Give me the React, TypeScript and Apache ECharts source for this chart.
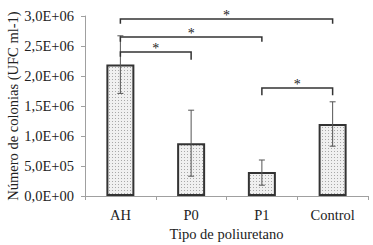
import React, { useEffect, useRef } from "react";
import * as echarts from "echarts";

const categories = ["AH", "P0", "P1", "Control"];
const means = [2.19e6, 0.88e6, 0.4e6, 1.2e6];
const errLow = [1.71e6, 0.33e6, 0.18e6, 0.83e6];
const errHigh = [2.67e6, 1.43e6, 0.6e6, 1.57e6];
// [fromIndex, toIndex, bracketLevel, leftDropTo, rightDropTo]
const brackets = [
  [0, 3, 2.95e6, 2.87e6, 2.87e6],
  [0, 2, 2.65e6, 2.57e6, 2.57e6],
  [0, 1, 2.4e6, 2.32e6, 2.27e6],
  [2, 3, 1.8e6, 1.68e6, 1.68e6],
];
const yMax = 3e6;
const yInterval = 5e5;

const FONT = "'Times New Roman', 'Liberation Serif', 'DejaVu Serif', serif";

function fmt(v: number): string {
  if (v === 0) return "0,0E+00";
  const e = Math.floor(Math.log10(v) + 1e-9);
  const m = v / Math.pow(10, e);
  return m.toFixed(1).replace(".", ",") + "E+" + String(e).padStart(2, "0");
}

function makePattern() {
  const c = document.createElement("canvas");
  c.width = 3;
  c.height = 3;
  const ctx = c.getContext("2d")!;
  ctx.fillStyle = "#f0f0f0";
  ctx.fillRect(0, 0, 3, 3);
  ctx.fillStyle = "#a8a8a8";
  ctx.fillRect(1, 1, 1, 1);
  return c;
}

export default function App() {
  const ref = useRef<HTMLDivElement>(null);
  useEffect(() => {
    const chart = echarts.init(ref.current!, null, { renderer: "svg" });
    const pattern = makePattern();
    chart.setOption({
      animation: false,
      textStyle: { fontFamily: FONT },
      grid: { left: 85, right: 5, top: 16, bottom: 49, outerBoundsMode: "none" },
      xAxis: {
        type: "category",
        data: categories,
        name: "Tipo de poliuretano",
        nameLocation: "middle",
        nameGap: 30,
        nameMoveOverlap: false,
        nameTextStyle: { fontFamily: FONT, fontSize: 14.5, color: "#222" },
        axisLine: { lineStyle: { color: "#a0a0a0", width: 1 } },
        axisTick: { show: true, length: 4, lineStyle: { color: "#a0a0a0" } },
        axisLabel: { fontFamily: FONT, fontSize: 14.5, color: "#222", margin: 11 },
      },
      yAxis: {
        type: "value",
        min: 0,
        max: yMax,
        interval: yInterval,
        name: "Número de colonias (UFC ml-1)",
        nameLocation: "middle",
        nameGap: 65,
        nameMoveOverlap: false,
        nameTextStyle: { fontFamily: FONT, fontSize: 14.5, lineHeight: 15, color: "#222" },
        axisLine: { show: true, lineStyle: { color: "#a0a0a0", width: 1 } },
        axisTick: { show: true, length: 4, lineStyle: { color: "#a0a0a0" } },
        splitLine: { show: false },
        axisLabel: {
          fontFamily: FONT,
          fontSize: 14.5,
          color: "#222",
          margin: 11,
          formatter: (v: number) => fmt(v),
        },
      },
      series: [
        {
          type: "bar",
          data: means,
          barWidth: 28,
          itemStyle: {
            color: { image: pattern, repeat: "repeat" },
            borderColor: "#333",
            borderWidth: 2,
          },
        },
        {
          type: "custom",
          data: categories.map((_, i) => [i, errLow[i], errHigh[i]]),
          encode: { x: 0, y: [1, 2] },
          z: 5,
          itemStyle: { color: "#555" },
          renderItem: (params: any, api: any) => {
            const x = api.value(0);
            const lo = api.coord([x, api.value(1)]);
            const hi = api.coord([x, api.value(2)]);
            const cap = 3;
            const st = { stroke: "#555", lineWidth: 1 };
            return {
              type: "group",
              children: [
                { type: "line", shape: { x1: lo[0], y1: lo[1], x2: hi[0], y2: hi[1] }, style: st },
                { type: "line", shape: { x1: hi[0] - cap, y1: hi[1], x2: hi[0] + cap, y2: hi[1] }, style: st },
                { type: "line", shape: { x1: lo[0] - cap, y1: lo[1], x2: lo[0] + cap, y2: lo[1] }, style: st },
              ],
            };
          },
        },
        {
          type: "custom",
          data: brackets,
          encode: { x: [0, 1], y: [2, 3, 4] },
          z: 6,
          itemStyle: { color: "#222" },
          renderItem: (params: any, api: any) => {
            const a = api.value(0);
            const b = api.value(1);
            const pl = api.coord([a, api.value(3)]);
            const p1 = api.coord([a, api.value(2)]);
            const p2 = api.coord([b, api.value(2)]);
            const pr = api.coord([b, api.value(4)]);
            return {
              type: "group",
              children: [
                {
                  type: "polyline",
                  shape: { points: [pl, p1, p2, pr] },
                  style: { stroke: "#333", lineWidth: 1.5, fill: null },
                },
                {
                  type: "text",
                  x: (p1[0] + p2[0]) / 2,
                  y: p1[1] - 4,
                  style: {
                    text: "*",
                    fontFamily: FONT,
                    fontSize: 14,
                    fill: "#222",
                    align: "center",
                    verticalAlign: "middle",
                  },
                },
              ],
            };
          },
        },
      ],
    });
    return () => chart.dispose();
  }, []);
  return (
    <div
      ref={ref}
      style={{ width: 373, height: 245, position: "absolute", left: 0, top: 0 }}
    />
  );
}
